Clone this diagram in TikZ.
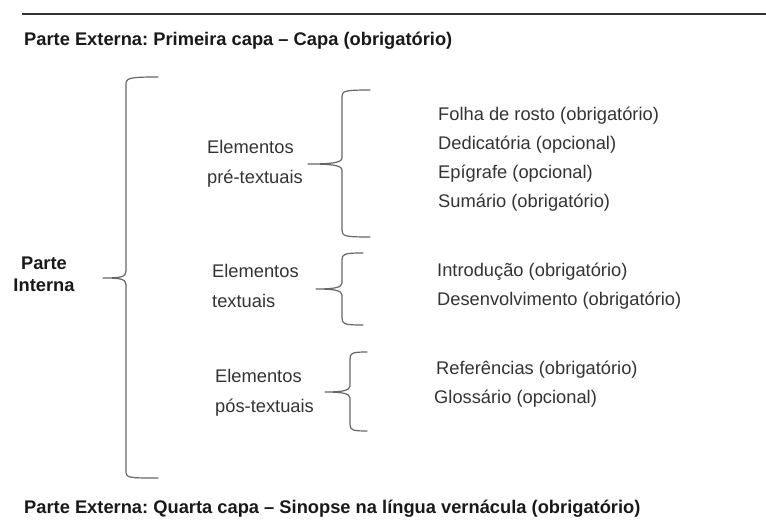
\documentclass[tikz,border=0pt]{standalone}
\usepackage{fontspec}
\setmainfont{Liberation Sans}
\frenchspacing

\begin{document}
\begin{tikzpicture}[x=1pt, y=-1pt,
		chave/.style={black!60, line width=1.2pt, line join=round, line cap=round},
		titulo/.style={anchor=base west, inner sep=0pt, text=black!90, font=\fontsize{18.3}{22}\selectfont\bfseries},
		rotulo/.style={anchor=base west, inner sep=0pt, align=left, text=black!80, font=\fontsize{18.3}{29.5}\selectfont},
		elemento/.style={anchor=base west, inner sep=0pt, text=black!80, font=\fontsize{18.3}{22}\selectfont}]
			\useasboundingbox (0, 0) rectangle (766, 522);
			\draw [black!80, line width=2pt] (22, 13.5) -- (766, 13.5); %line on top
			
			\node[titulo] (capa) at (24, 45) {Parte Externa: Primeira capa -- Capa (obrigatório)};
			\node[titulo] (quarta) at (24, 513) {Parte Externa: Quarta capa -- Sinopse na língua vernácula (obrigatório)};
			
			\node[align=center, inner sep=0pt, text=black!90, font=\fontsize{18.3}{22}\selectfont\bfseries] (pInterna) at (44, 274) {Parte\\Interna};
			
			%big brace
			\draw [chave] (158, 77) .. controls (128, 77) and (126, 78) .. (126, 85) -- (126, 271) .. controls (126, 277) and (121, 278) .. (103, 278) .. controls (121, 278) and (126, 279) .. (126, 285) -- (126, 471) .. controls (126, 478) and (128, 478) .. (158, 478);
			
			%pre-textual elements (base = last line)
			\node[rotulo] (preTxt) at (207, 183) {Elementos\\pré-textuais};
			\draw [chave] (370, 90) .. controls (344, 90) and (342, 91) .. (342, 97) -- (342, 158) .. controls (342, 163) and (330, 164) .. (308, 164) .. controls (330, 164) and (342, 165) .. (342, 170) -- (342, 230) .. controls (342, 236) and (344, 237) .. (370, 237);
			\node[elemento] (folha) at (438, 120) {Folha de rosto (obrigatório)};
			\node[elemento] (dedic) at (438, 149) {Dedicatória (opcional)};
			\node[elemento] (epig) at (438, 178) {Epígrafe (opcional)};
			\node[elemento] (sumario) at (438, 207) {Sumário (obrigatório)};
			
			%textual elements
			\node[rotulo] (txt) at (212, 307) {Elementos\\textuais};
			\draw [chave] (363, 253) .. controls (344, 253) and (342, 254) .. (342, 260) -- (342, 283) .. controls (342, 288) and (332, 289) .. (316, 289) .. controls (332, 289) and (342, 290) .. (342, 295) -- (342, 318) .. controls (342, 324) and (344, 325) .. (363, 325);
			\node[elemento] (intro) at (437, 276) {Introdução (obrigatório)};
			\node[elemento] (desenv) at (437, 305) {Desenvolvimento (obrigatório)};
			
			%post-textual elements
			\node[rotulo] (posTxt) at (215, 412) {Elementos\\pós-textuais};
			\draw [chave] (367, 352) .. controls (352, 352) and (350, 353) .. (350, 359) -- (350, 386) .. controls (350, 391) and (340, 392) .. (325, 392) .. controls (340, 392) and (350, 393) .. (350, 398) -- (350, 424) .. controls (350, 430) and (352, 431) .. (367, 431);
			\node[elemento] (refs) at (436, 374) {Referências (obrigatório)};
			\node[elemento] (gloss) at (434, 403) {Glossário (opcional)};
		\end{tikzpicture}
\end{document}
